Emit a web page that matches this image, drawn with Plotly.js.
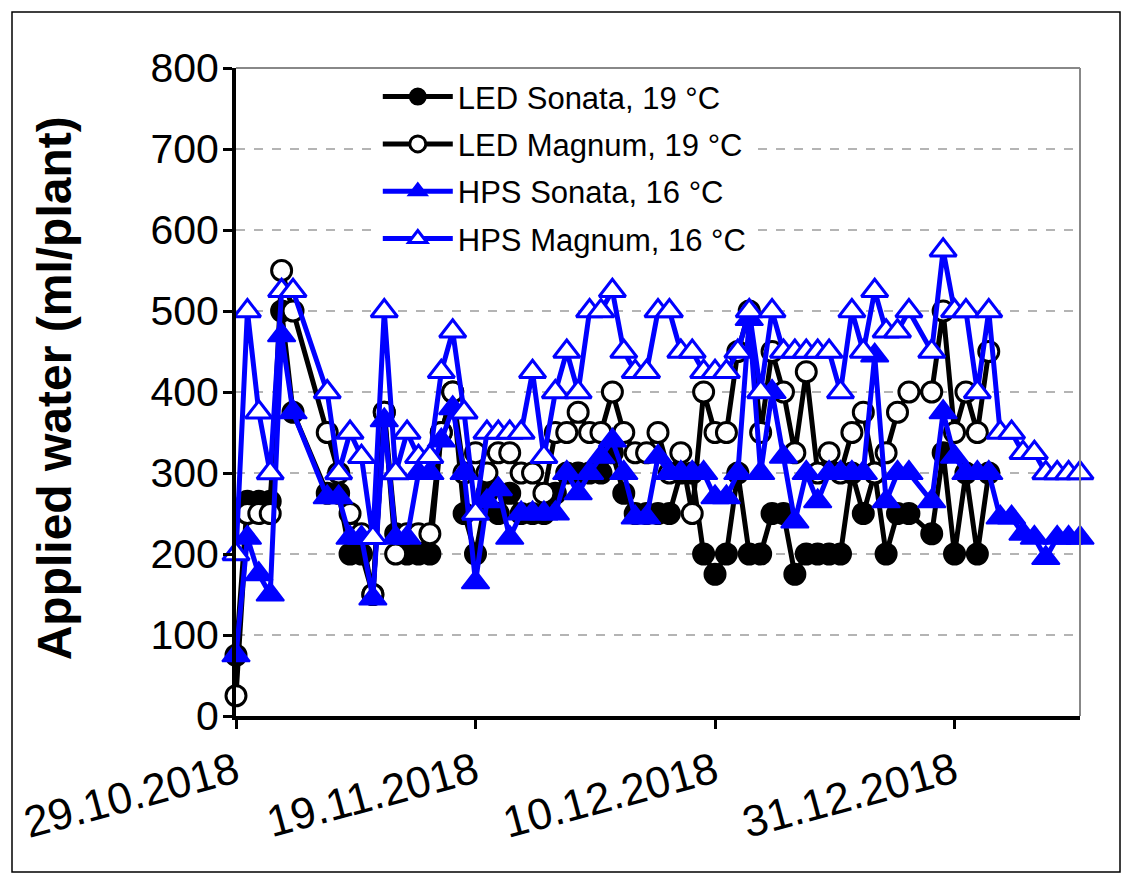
<!DOCTYPE html>
<html>
<head>
<meta charset="utf-8">
<script src="https://cdn.plot.ly/plotly-3.0.1.min.js"></script>
<style>
html,body{margin:0;padding:0;background:#fff;}
#chart{width:1132px;height:881px;}
</style>
</head>
<body>
<div id="chart"></div>
<script>
// Dates (one per day, 29.10.2018 - 11.01.2019)
const dates = [
'2018-10-29','2018-10-30','2018-10-31','2018-11-01','2018-11-02','2018-11-03','2018-11-04','2018-11-05','2018-11-06','2018-11-07',
'2018-11-08','2018-11-09','2018-11-10','2018-11-11','2018-11-12','2018-11-13','2018-11-14','2018-11-15','2018-11-16','2018-11-17',
'2018-11-18','2018-11-19','2018-11-20','2018-11-21','2018-11-22','2018-11-23','2018-11-24','2018-11-25','2018-11-26','2018-11-27',
'2018-11-28','2018-11-29','2018-11-30','2018-12-01','2018-12-02','2018-12-03','2018-12-04','2018-12-05','2018-12-06','2018-12-07',
'2018-12-08','2018-12-09','2018-12-10','2018-12-11','2018-12-12','2018-12-13','2018-12-14','2018-12-15','2018-12-16','2018-12-17',
'2018-12-18','2018-12-19','2018-12-20','2018-12-21','2018-12-22','2018-12-23','2018-12-24','2018-12-25','2018-12-26','2018-12-27',
'2018-12-28','2018-12-29','2018-12-30','2018-12-31','2019-01-01','2019-01-02','2019-01-03','2019-01-04','2019-01-05','2019-01-06',
'2019-01-07','2019-01-08','2019-01-09','2019-01-10','2019-01-11'
];

// LED Sonata, 19 °C (ml/plant)
const ledSonata = [
75,265,265,265,500,375,null,null,275,275,
200,200,150,375,225,200,200,200,350,400,
250,200,275,250,275,250,250,250,275,300,
300,300,300,325,275,250,250,250,250,300,
300,200,175,200,300,200,200,250,250,175,
200,200,200,200,300,250,300,200,250,250,
null,225,325,200,300,200,300,null,null,null,
null,null,null,null,null
];

// LED Magnum, 19 °C
const ledMagnum = [
25,250,250,250,550,500,null,null,350,300,
250,225,150,375,200,225,225,225,350,400,
300,325,300,325,325,300,300,275,350,350,
375,350,350,400,350,325,325,350,300,325,
250,400,350,350,450,500,350,450,400,325,
425,300,325,300,350,375,300,325,375,400,
null,400,500,350,400,350,450,null,null,null,
null,null,null,null,null
];

// HPS Sonata, 16 °C
const hpsSonata = [
75,220,175,150,470,375,null,null,270,270,
220,220,145,365,220,220,300,300,340,380,
300,165,265,280,220,250,250,250,250,300,
275,300,320,340,300,245,245,320,300,300,
300,300,270,270,300,490,300,400,320,240,
300,265,300,300,300,300,445,265,300,300,
null,265,375,320,300,300,300,245,245,225,
220,195,220,220,220
];

// HPS Magnum, 16 °C
const hpsMagnum = [
200,500,375,300,525,525,null,null,400,300,
350,320,220,500,300,350,320,320,425,475,
375,250,350,350,350,350,425,320,400,450,
400,500,500,525,450,425,425,500,500,450,
450,425,425,425,450,500,400,500,450,450,
450,450,450,400,500,450,525,475,475,500,
null,450,575,500,500,400,500,350,350,325,
325,300,300,300,300
];

const seriesNames = ['LED Sonata, 19 °C','LED Magnum, 19 °C','HPS Sonata, 16 °C','HPS Magnum, 16 °C'];
const tickDates = ['2018-10-29','2018-11-19','2018-12-10','2018-12-31'];
const tickLabels = ['29.10.2018','19.11.2018','10.12.2018','31.12.2018'];

const FONT = 'Liberation Sans, Arial, sans-serif';

function mk(y, name, color, symbol, fill, size, lw, grp){
  return {
    x: dates, y: y, name: name, type: 'scatter', mode: 'lines+markers',
    connectgaps: true, cliponaxis: false, legendgroup: grp,
    line: {color: color, width: 5},
    marker: {symbol: symbol, size: size, color: fill, line: {color: color, width: lw}}
  };
}

const traces = [
  mk(ledSonata, seriesNames[0], '#000000', 'circle', '#000000', 21, 2, 'a'),
  mk(ledMagnum, seriesNames[1], '#000000', 'circle', '#ffffff', 20, 3, 'b'),
  mk(hpsSonata, seriesNames[2], '#0000ff', 'triangle-up', '#0000ff', 24, 2, 'c'),
  mk(hpsMagnum, seriesNames[3], '#0000ff', 'triangle-up', '#ffffff', 23, 3, 'd')
];

const layout = {
  width: 1132, height: 881,
  margin: {l: 236, r: 52, t: 68, b: 165},
  paper_bgcolor: '#ffffff', plot_bgcolor: '#ffffff',
  font: {family: FONT, color: '#000'},
  showlegend: true,
  legend: {
    x: 0.168, y: 0.997, xanchor: 'left', yanchor: 'top',
    bgcolor: '#ffffff', borderwidth: 0,
    font: {family: FONT, size: 31, color: '#000'},
    itemwidth: 70, tracegroupgap: 4, traceorder: 'grouped'
  },
  xaxis: {
    type: 'date',
    range: ['2018-10-29', '2019-01-11'],
    tickvals: tickDates, ticktext: tickLabels,
    tickangle: -15,
    tickfont: {family: FONT, size: 44, color: '#000'},
    ticks: 'outside', ticklen: 9, tickwidth: 3, tickcolor: '#000',
    showline: true, linecolor: '#000', linewidth: 4,
    showgrid: false, zeroline: false
  },
  yaxis: {
    range: [0, 800], dtick: 100, tick0: 0,
    tickfont: {family: FONT, size: 41, color: '#000'},
    ticks: 'outside', ticklen: 9, tickwidth: 3, tickcolor: '#000',
    ticklabelstandoff: -4,
    showline: true, linecolor: '#000', linewidth: 4,
    showgrid: true, gridcolor: '#b4b4b4', gridwidth: 1.5, griddash: 'dash',
    zeroline: false
  },
  annotations: [{
    text: '<b>Applied water (ml/plant)</b>',
    xref: 'paper', yref: 'paper', x: -0.215, y: 0.505,
    xanchor: 'center', yanchor: 'middle', textangle: -90, showarrow: false,
    font: {family: FONT, size: 48, color: '#000'}
  }],
  shapes: [
    {type: 'line', xref: 'paper', yref: 'paper', x0: 0, x1: 1, y0: 1, y1: 1, line: {color: '#888', width: 2}},
    {type: 'line', xref: 'paper', yref: 'paper', x0: 1, x1: 1, y0: 0, y1: 1, line: {color: '#888', width: 2}},
    {type: 'rect', xref: 'paper', yref: 'paper', x0: -0.2654, x1: 1.0474, y0: -0.2407, y1: 1.0864, line: {color: '#000', width: 1.5}, layer: 'below'}
  ]
};

Plotly.newPlot('chart', traces, layout, {staticPlot: true, displayModeBar: false});
</script>
</body>
</html>
